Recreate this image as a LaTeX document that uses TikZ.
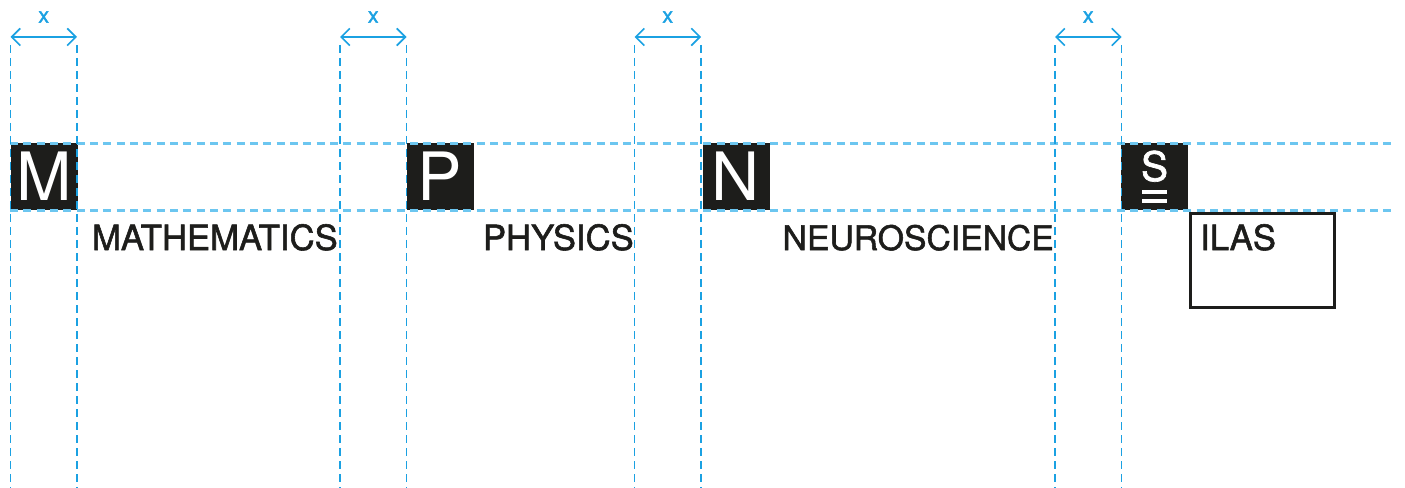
\documentclass[tikz,border=0pt]{standalone}
\usepackage{fontspec}
\setmainfont{TeX Gyre Heros}
\newfontfamily\lblfont[FakeBold=1.6]{TeX Gyre Heros}
\usetikzlibrary{arrows.meta,calc}
\definecolor{ink}{HTML}{1D1D1B}
\definecolor{guide}{HTML}{1BA1E2}
\definecolor{guidelight}{HTML}{6CC6F0}
\begin{document}
\begin{tikzpicture}[x=0.75pt,y=-0.75pt,
  vguide/.style={guide, line width=1.3pt, dash pattern=on 6pt off 3.75pt},
  hguide/.style={guidelight, line width=1.6pt, dash pattern=on 6pt off 4pt},
  sq/.style={fill=ink, minimum size=50.25pt, inner sep=0pt, outer sep=0pt},
  letter/.style={text=white, font=\fontsize{50}{50}\selectfont, inner sep=0pt},
  lbl/.style={text=ink, font=\lblfont\fontsize{26}{30}\selectfont, inner sep=0pt},
  dim/.style={guide, line width=1.2pt, {Straight Barb[length=6.5pt,width=13pt]}-{Straight Barb[length=6.5pt,width=13pt]}},
  xl/.style={text=guide, font=\lblfont\fontsize{16}{16}\selectfont, inner sep=0pt}]
\useasboundingbox (0,0) rectangle (1405,488);

% black squares
\node[sq] (m) at (44,176.5) {};
\node[sq] (p) at (440,176.5) {};
\node[sq] (n) at (736,176.5) {};
\node[sq] (s) at (1154.5,176.5) {};
\node[letter, anchor=base] (mL) at (m.center |- 0,201) {M};
\node[letter, anchor=base] (pL) at (p.center |- 0,201) {P};
\node[letter, anchor=base] (nL) at (n.center |- 0,201) {N};
\node[letter, anchor=base, font=\lblfont\fontsize{30.5}{30}\selectfont] (sL) at (s.center |- 0,181) {S};
\fill[white] (1142,190) rectangle (1167,194);
\fill[white] (1142,199) rectangle (1167,203);

% ILAS box
\node[draw=ink, line width=2.5pt, minimum width=108pt, minimum height=70.5pt, inner sep=0pt, anchor=north west] (box) at (1189,212) {};
\node[lbl, anchor=base west] (ilas) at (1200,250) {ILAS};

% labels
\node[lbl, anchor=base east] (math) at (338,250) {MATHEMATICS};
\node[lbl, anchor=base east] (phys) at (634,250) {PHYSICS};
\node[lbl, anchor=base east, font=\lblfont\fontsize{25.3}{30}\selectfont] (neuro) at (1054,250) {NEUROSCIENCE};

% horizontal guides
\draw[hguide] (10,143.5) -- (1395,143.5);
\draw[hguide] (10,210.5) -- (1395,210.5);

% vertical guides and dimension arrows
\foreach \a/\b [count=\i] in {10.5/77, 340/406.5, 634.5/701, 1055/1121.5}{
  \coordinate (t\i a) at (\a,37);
  \coordinate (t\i b) at (\b,37);
  \draw[vguide] (\a,45) -- (\a,488);
  \draw[vguide] (\b,45) -- (\b,488);
  \draw[dim] (t\i a) -- (t\i b);
  \node[xl] (x\i) at ($(t\i a)!0.5!(t\i b)+(0,-20)$) {x};
}
\end{tikzpicture}
\end{document}
